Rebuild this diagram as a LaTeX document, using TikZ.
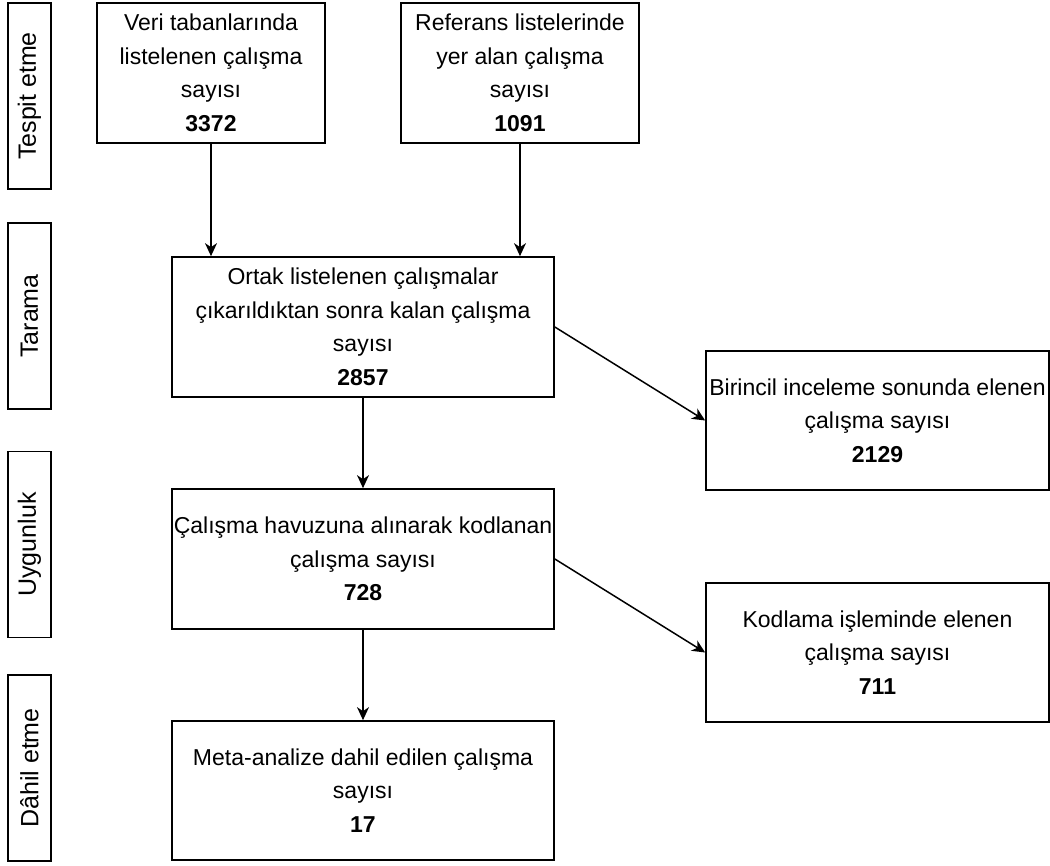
\documentclass[tikz,border=0pt]{standalone}
\usepackage{fontspec}
\setmainfont{Liberation Sans}
\usetikzlibrary{arrows.meta}
\begin{document}
\begin{tikzpicture}[x=1pt,y=-1pt,
  box/.style={draw, line width=1.7pt, align=center, inner sep=0pt,
    font=\fontsize{23}{33.5}\selectfont},
  mainbox/.style={box, minimum width=382pt, minimum height=140pt},
  sidebox/.style={box, minimum width=343pt, minimum height=139pt},
  phase/.style={draw, line width=1.7pt, rotate=90, inner sep=0pt,
    minimum width=186pt, minimum height=43pt,
    font=\fontsize{25}{30}\selectfont},
  flow/.style={line width=1.5pt, -{Stealth[length=13pt,width=12pt,inset=4pt]}}]
  \fill[white] (0,0) rectangle (1050,866);
  \useasboundingbox (0,0) rectangle (1050,866);

  % phase labels on the left
  \node[phase] (p1) at (29.5,96) {Tespit etme};
  \node[phase] (p2) at (29.5,316) {Tarama};
  \node[phase] (p3) at (29.5,544.5) {Uygunluk};
  \node[phase] (p4) at (29.5,768) {Dâhil etme};

  % identification sources
  \node[box, minimum width=228pt, minimum height=140pt] (A) at (211,73)
    {Veri tabanlarında\\listelenen çalışma\\sayısı\\\textbf{3372}};
  \node[box, minimum width=238pt, minimum height=140pt] (B) at (520,73)
    {Referans listelerinde\\yer alan çalışma\\sayısı\\\textbf{1091}};

  % main flow
  \node[mainbox] (C) at (363,327)
    {Ortak listelenen çalışmalar\\çıkarıldıktan sonra kalan çalışma\\sayısı\\\textbf{2857}};
  \node[mainbox] (D) at (363,559)
    {Çalışma havuzuna alınarak kodlanan\\çalışma sayısı\\\textbf{728}};
  \node[mainbox, minimum height=139pt] (E) at (363,790.5)
    {Meta-analize dahil edilen çalışma\\sayısı\\\textbf{17}};

  % excluded studies
  \node[sidebox] (F) at (877.5,420.5)
    {Birincil inceleme sonunda elenen\\çalışma sayısı\\\textbf{2129}};
  \node[sidebox] (G) at (877.5,652.5)
    {Kodlama işleminde elenen\\çalışma sayısı\\\textbf{711}};

  % connectors
  \draw[flow] (A.south) -- (A.south |- C.north);
  \draw[flow] (B.south) -- (B.south |- C.north);
  \draw[flow] (C.south) -- (D.north);
  \draw[flow] (D.south) -- (E.north);
  \draw[flow] (C.east) -- (F.west);
  \draw[flow] (D.east) -- (G.west);
\end{tikzpicture}
\end{document}
